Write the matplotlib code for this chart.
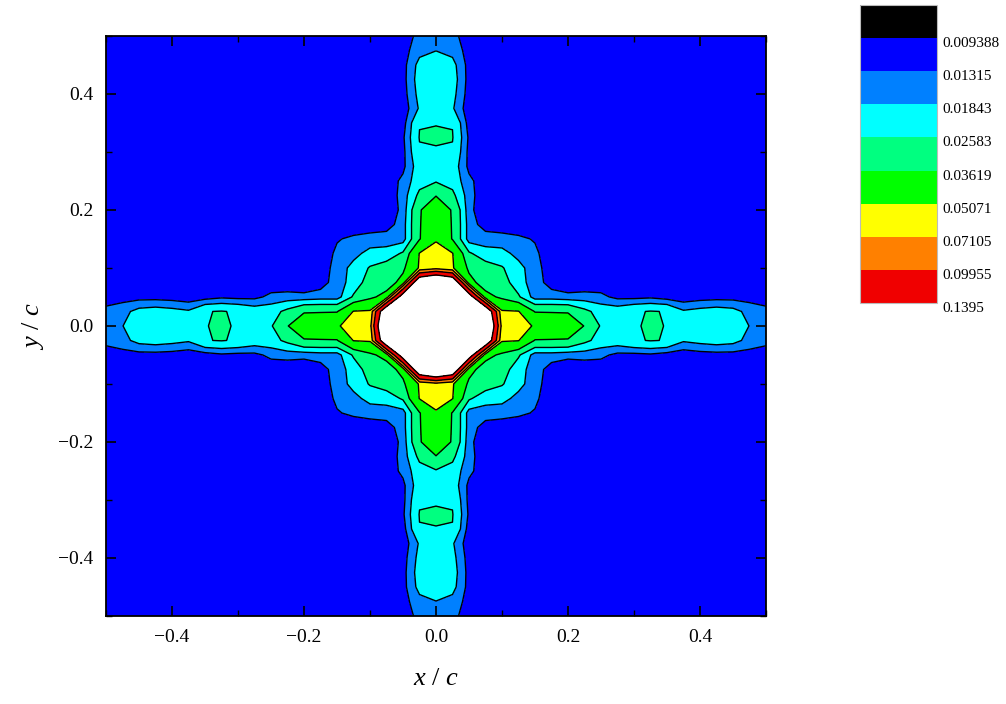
import numpy as np
import matplotlib
matplotlib.use('Agg')
import matplotlib.pyplot as plt
import matplotlib.transforms as mtransforms
from matplotlib.colors import ListedColormap, BoundaryNorm
from matplotlib.cm import ScalarMappable
from matplotlib.ticker import MultipleLocator

plt.rcParams['font.family'] = ['Liberation Serif', 'DejaVu Serif']
plt.rcParams['mathtext.fontset'] = 'custom'
plt.rcParams['mathtext.it'] = 'Liberation Serif:italic'
plt.rcParams['mathtext.rm'] = 'Liberation Serif'

# contour levels shown in the legend box
levels = [0.009388, 0.01315, 0.01843, 0.02583, 0.03619, 0.05071, 0.07105, 0.09955, 0.1395]
legend_colors = ['#000000', '#0000ff', '#0080ff', '#00ffff', '#00ff80',
                 '#00ff00', '#ffff00', '#ff8000', '#f00000']
band_colors = legend_colors[1:]

# grid nodes from the centre outwards (same along x and y)
nodes = [0.0, 0.025, 0.05, 0.075, 0.1, 0.125, 0.15, 0.175, 0.2, 0.225, 0.25,
         0.275, 0.3, 0.325, 0.35, 0.375, 0.4, 0.425, 0.45, 0.475, 0.5]
background = 0.0102

# values along the arm, one row per lateral offset, each row starting on the diagonal
arm_y000 = [0.40, 0.40, 0.35, 0.2235, 0.062, 0.056, 0.0494, 0.045, 0.042, 0.0359, 0.02496,
            0.023, 0.0235, 0.029, 0.025, 0.0215, 0.0222, 0.0225, 0.0222, 0.0183, 0.0160]
arm_y025 = [0.40, 0.30, 0.19, 0.052, 0.0512, 0.0355, 0.0355, 0.0355, 0.028, 0.0225,
            0.0222, 0.0250, 0.0262, 0.0255, 0.0192, 0.0205, 0.0215, 0.0205, 0.0165, 0.0145]
arm_y050 = [0.171, 0.040, 0.034, 0.027, 0.0155, 0.0155, 0.0145, 0.0150, 0.0145,
            0.0118, 0.0116, 0.0122, 0.0108, 0.0098, 0.0108, 0.0112, 0.0112, 0.0110, 0.0108]
arm_y075 = [0.031, 0.030, 0.021, 0.0155, 0.011, 0.0098, 0.0098, 0.0098]
arm_y100 = [0.0265, 0.0205, 0.015, 0.0105]
arm_y125 = [0.0165, 0.0140, 0.0105]
arm_y150 = [0.0128]
arm_rows = [arm_y000, arm_y025, arm_y050, arm_y075, arm_y100, arm_y125, arm_y150]

# build one quadrant (symmetric in x/y) and mirror it
n = len(nodes)
quad = np.full((n, n), background)
for i, row in enumerate(arm_rows):
    quad[i, i:i + len(row)] = row
    quad[i:i + len(row), i] = row
half = np.vstack([quad[:0:-1], quad])
field = np.hstack([half[:, :0:-1], half])
coords = np.concatenate([-np.array(nodes[:0:-1]), nodes])

fig = plt.figure(figsize=(10.06, 7.04), dpi=100)
ax = fig.add_axes([0.1054, 0.125, 0.656, 0.824])

ax.contourf(coords, coords, field, levels=levels, colors=band_colors)
ax.contour(coords, coords, field, levels=levels, colors='k', linewidths=1.0)

ax.set_xlim(-0.5, 0.5)
ax.set_ylim(-0.5, 0.5)
ax.xaxis.set_major_locator(MultipleLocator(0.2))
ax.xaxis.set_minor_locator(MultipleLocator(0.1))
ax.yaxis.set_major_locator(MultipleLocator(0.2))
ax.yaxis.set_minor_locator(MultipleLocator(0.1))
ax.tick_params(which='both', direction='in', top=True, right=True, labelsize=14, pad=9)
ax.tick_params(which='major', length=7, width=1.2)
ax.tick_params(which='minor', length=4, width=1.0)
ax.xaxis.set_major_formatter(lambda v, p: f'{v:.1f}'.replace('-', '\u2212'))
ax.yaxis.set_major_formatter(lambda v, p: f'{v:.1f}'.replace('-', '\u2212'))
for s in ax.spines.values():
    s.set_linewidth(1.3)

ax.set_xlabel(r'$x$ / $c$', fontsize=19, labelpad=16)
ax.set_ylabel(r'$y$ / $c$', fontsize=19, labelpad=9)

# legend box with colour blocks
cax = fig.add_axes([0.855, 0.5696, 0.0765, 0.4233])
cmap = ListedColormap(legend_colors)
norm = BoundaryNorm(np.arange(len(legend_colors) + 1), cmap.N)
cb = fig.colorbar(ScalarMappable(norm=norm, cmap=cmap), cax=cax,
                  ticks=np.arange(1, len(levels) + 1))
cb.ax.set_yticklabels([f'{v:g}' for v in levels])
cax.invert_yaxis()
cax.minorticks_off()
cax.tick_params(length=0, labelsize=11, pad=4)
shift = mtransforms.ScaledTranslation(0, -4 / 100, fig.dpi_scale_trans)
for lab in cax.get_yticklabels():
    lab.set_transform(lab.get_transform() + shift)
cb.outline.set_edgecolor('#bbbbbb')
cb.outline.set_linewidth(0.8)

fig.savefig('out.png', dpi=100)
